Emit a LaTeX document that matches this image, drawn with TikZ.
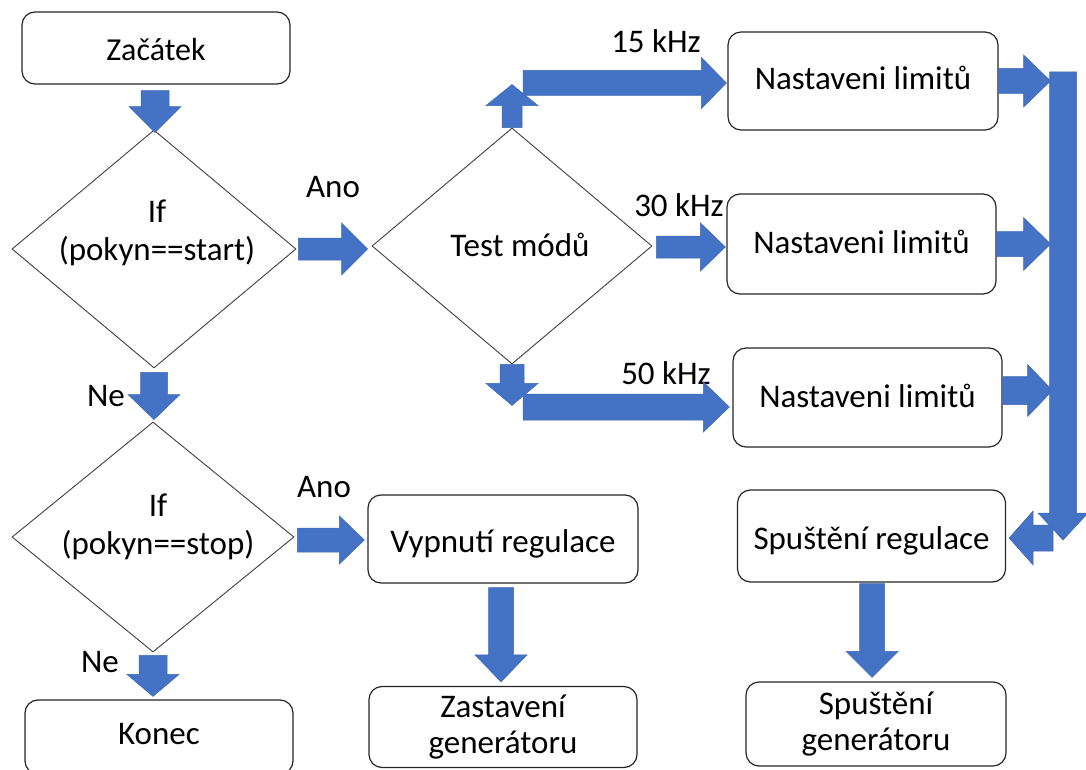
\documentclass[tikz,border=0pt]{standalone}
\usepackage{fontspec}
\setmainfont{Carlito}
\usetikzlibrary{shapes.geometric,calc}

\definecolor{flowblue}{HTML}{4472C4}
\definecolor{flowedge}{HTML}{3F69B5}
\definecolor{boxline}{HTML}{262626}
\definecolor{diamondline}{HTML}{404040}

\newcommand\shapefont{\fontsize{33}{36}\selectfont}
\newcommand\diamondfont{\fontsize{33}{38}\selectfont}
\newcommand\labelfont{\fontsize{33}{36}\selectfont}

\tikzset{
  box/.style={draw=boxline, line width=1.2pt, rounded corners=13pt, fill=white,
    align=center, inner sep=0pt, font=\shapefont},
  % single-line boxes: the baseline sits #1/2 below the box centre
  baseline drop/.style={text height={#1+6pt}, text depth=6pt},
  decision/.style={draw=diamondline, line width=0.9pt, shape=diamond,
    inner sep=0pt, fill=white},
  dtext/.style={align=center, inner sep=0pt, font=\diamondfont},
  lbl/.style={inner sep=0pt, font=\labelfont},
  blockarrow/.style={fill=flowblue, draw=flowedge, line width=0.5pt},
}

% horizontal block arrow: tail, tip, shaft half-width, head half-width, head length
\newcommand\harrow[5]{%
  \path[blockarrow] let \p1=(#1), \p2=(#2), \n1={ifthenelse(\x2>\x1,#5,-#5)} in
    (\x1,\y2+#3) -- (\x2-\n1,\y2+#3) -- (\x2-\n1,\y2+#4) -- (\x2,\y2)
    -- (\x2-\n1,\y2-#4) -- (\x2-\n1,\y2-#3) -- (\x1,\y2-#3) -- cycle;}
% vertical block arrow: same arguments
\newcommand\varrow[5]{%
  \path[blockarrow] let \p1=(#1), \p2=(#2), \n1={ifthenelse(\y2>\y1,#5,-#5)} in
    (\x2+#3,\y1) -- (\x2+#3,\y2-\n1) -- (\x2+#4,\y2-\n1) -- (\x2,\y2)
    -- (\x2-#4,\y2-\n1) -- (\x2-#3,\y2-\n1) -- (\x2-#3,\y1) -- cycle;}

\begin{document}
\begin{tikzpicture}[x=1pt, y=-1pt]
  \useasboundingbox (0,0) rectangle (1086,770);
  \clip (0,0) rectangle (1086,770);
  \fill[white] (0,0) rectangle (1086,770);

  % left column
  \node[box, minimum width=268pt, minimum height=72pt, baseline drop=26pt,
        font=\fontsize{32}{36}\selectfont] (start) at (156,48) {Začátek};
  \node[decision, minimum width=284pt, minimum height=238pt] (d1) at (154,249) {};
  \node[dtext] (d1t) at (157,233) {If\\(pokyn==start)};
  \node[decision, minimum width=282pt, minimum height=230pt] (d3) at (153,537) {};
  \node[dtext] (d3t) at (158,527) {If\\(pokyn==stop)};
  \node[box, minimum width=268pt, minimum height=74pt, baseline drop=14pt] (konec) at (159,737) {Konec};

  % middle column
  \node[decision, minimum width=280pt, minimum height=236pt] (d2) at (512,246) {};
  \node[dtext] (d2t) at (520,245) {Test módů};
  \node[box, minimum width=270pt, minimum height=88pt, baseline drop=26pt] (vr) at (503,539) {Vypnutí regulace};
  \node[box, minimum width=268pt, minimum height=81pt] (zg) at (503,727) {Zastavení\\generátoru};

  % right column
  \node[box, minimum width=270pt, minimum height=98pt, baseline drop=18pt] (n1) at (863,81) {Nastaveni limitů};
  \node[box, minimum width=269pt, minimum height=100pt, baseline drop=18pt] (n2) at (861.5,244) {Nastaveni limitů};
  \node[box, minimum width=269pt, minimum height=99pt, baseline drop=19pt] (n3) at (867.5,397.5) {Nastaveni limitů};
  \node[box, minimum width=268pt, minimum height=92pt, baseline drop=26pt] (sr) at (871.5,536) {Spuštění regulace};
  \node[box, minimum width=260pt, minimum height=84pt] (sg) at (876,724) {Spuštění\\generátoru};

  % branch labels
  \node[lbl] (l1) at (333,187) {Ano};
  \node[lbl] (l2) at (106,396) {Ne};
  \node[lbl] (l3) at (324,487) {Ano};
  \node[lbl] (l4) at (100,662) {Ne};
  \node[lbl] (l5) at (656,41) {15 kHz};
  \node[lbl] (l6) at (679,205) {30 kHz};
  \node[lbl] (l7) at (666,373) {50 kHz};

  % free ends of the connectors
  \coordinate (a1s) at ($(start.south)+(-1,6)$);
  \coordinate (a1e) at ($(d1.north)+(1,3)$);
  \coordinate (a2s) at ($(d1.east)+(2,0)$);
  \coordinate (a2e) at ($(d2.west)+(-4,3)$);
  \coordinate (a3e) at ($(d2.north)+(0,-43)$);
  \coordinate (a4s) at ($(d2.north)+(11,-44)$);
  \coordinate (a4e) at ($(n1.west)+(-1,2)$);
  \coordinate (a5s) at ($(d2.east)+(4,1)$);
  \coordinate (a5e) at ($(n2.west)+(-1,3)$);
  \coordinate (a6e) at ($(d2.south)+(0,41)$);
  \coordinate (a7s) at ($(d2.south)+(11,43)$);
  \coordinate (a7e) at ($(n3.west)+(-3,9.5)$);
  \coordinate (a8e) at ($(n1.east)+(52,0)$);
  \coordinate (a9e) at ($(n2.east)+(54,0)$);
  \coordinate (a10e) at ($(n3.east)+(50,-7)$);
  \coordinate (bartop) at (1063,72);
  \coordinate (barbot) at (1063,540);
  \coordinate (a12s) at (1053,538);
  \coordinate (a12e) at ($(sr.east)+(3,2)$);
  \coordinate (a13s) at ($(sr.south)+(0,1)$);
  \coordinate (a13e) at ($(sg.north)+(-4,-4)$);
  \coordinate (a14s) at ($(d1.south)+(0,4)$);
  \coordinate (a14e) at ($(d3.north)+(1,-2)$);
  \coordinate (a15s) at ($(d3.east)+(3,3)$);
  \coordinate (a15e) at ($(vr.west)+(-3,1)$);
  \coordinate (a16s) at ($(vr.south)+(0,4)$);
  \coordinate (a16e) at ($(zg.north)+(-2,-4)$);
  \coordinate (a17s) at ($(d3.south)+(0,3)$);
  \coordinate (a17e) at ($(konec.north)+(-6,-3)$);

  % block arrows
  \varrow{a1s}{a1e}{14}{26}{26}
  \harrow{a2s}{a2e}{11}{26}{26}
  \varrow{d2.north}{a3e}{10}{26}{21}
  \harrow{a4s}{a4e}{12.5}{25.5}{25}
  \harrow{a5s}{a5e}{11}{24}{25}
  \varrow{d2.south}{a6e}{12}{26}{22}
  \harrow{a7s}{a7e}{13}{25}{26}
  \harrow{n1.east}{a8e}{12.5}{26}{27}
  \harrow{n2.east}{a9e}{12.5}{26.5}{27}
  \harrow{n3.east}{a10e}{14}{26}{25}
  \varrow{bartop}{barbot}{13.5}{25}{27}
  \harrow{a12s}{a12e}{13}{27}{24}
  \varrow{a13s}{a13e}{12.5}{26}{26}
  \varrow{a14s}{a14e}{13.5}{26}{25}
  \harrow{a15s}{a15e}{12}{24}{25}
  \varrow{a16s}{a16e}{12.5}{26}{27}
  \varrow{a17s}{a17e}{14}{26}{22}
\end{tikzpicture}
\end{document}
